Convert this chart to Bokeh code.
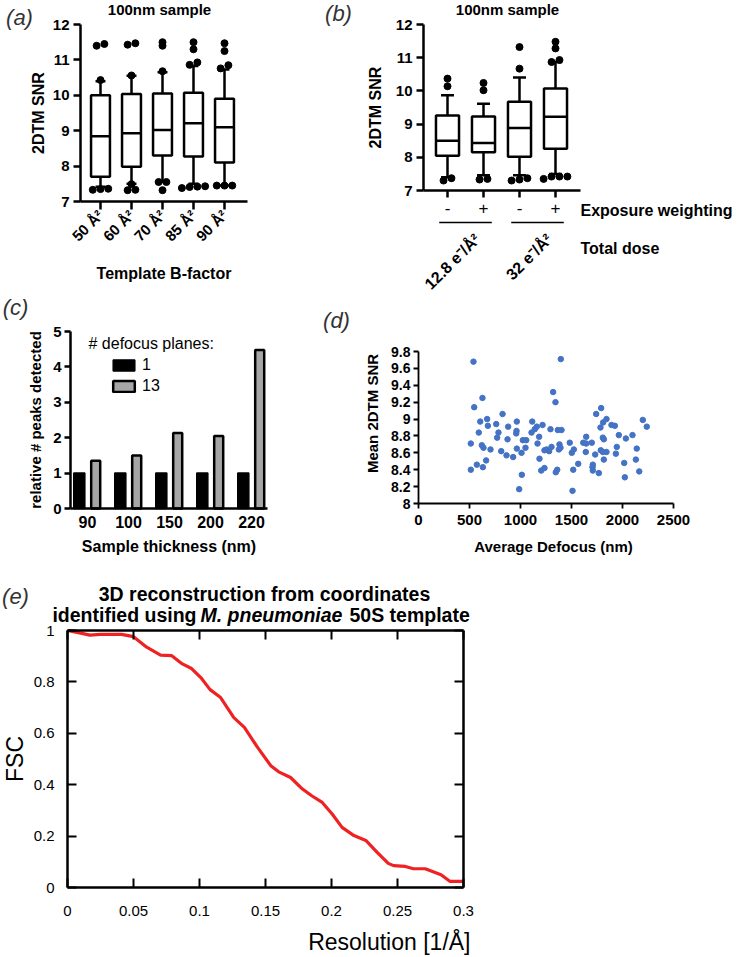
import math
import numpy as np
from bokeh.plotting import figure
from bokeh.models import (Range1d, FixedTicker, Label, LinearAxis, Legend, LegendItem,
                          NumeralTickFormatter, ColumnDataSource)
from bokeh.layouts import row, column
from bokeh.embed import file_html
from bokeh.resources import INLINE

FONT = "Liberation Sans"

# ---------------- data: panel (a) ----------------
a_categories = ["50 Å²", "60 Å²", "70 Å²", "85 Å²", "90 Å²"]
a_q1 = [7.70, 7.98, 8.30, 8.27, 8.10]
a_median = [8.84, 8.93, 9.02, 9.21, 9.10]
a_q3 = [10.00, 10.04, 10.05, 10.07, 9.90]
a_whisker_low = [7.42, 7.50, 7.55, 7.50, 7.45]
a_whisker_high = [10.40, 10.55, 10.65, 10.83, 10.73]
a_outliers = [
    [11.40, 11.45, 10.43, 7.36, 7.33, 7.35],
    [11.43, 11.47, 10.56, 7.49, 7.32, 7.33],
    [11.40, 11.50, 10.68, 7.55, 7.55, 7.32],
    [11.50, 11.30, 10.93, 10.86, 7.38, 7.42, 7.43, 7.41],
    [11.47, 11.25, 10.85, 10.76, 7.45, 7.45, 7.45],
]
a_yticks = [7, 8, 9, 10, 11, 12]

# ---------------- data: panel (b) ----------------
b_weighting = ["-", "+", "-", "+"]
b_dose_labels = ["12.8 e⁻/Å²", "32 e⁻/Å²"]
b_q1 = [8.05, 8.15, 8.02, 8.26]
b_median = [8.50, 8.43, 8.88, 9.22]
b_q3 = [9.26, 9.23, 9.67, 10.07]
b_whisker_low = [7.40, 7.46, 7.46, 7.50]
b_whisker_high = [9.87, 9.61, 10.40, 10.87]
b_outliers = [
    [10.37, 10.14, 7.30, 7.37],
    [10.24, 10.02, 7.33, 7.35],
    [11.32, 10.67, 7.30, 7.37, 7.33],
    [11.48, 11.28, 10.93, 10.87, 7.35, 7.42, 7.42, 7.42],
]

# ---------------- data: panel (c) ----------------
c_thickness = ["90", "100", "150", "200", "220"]
c_planes_1 = [1, 1, 1, 1, 1]
c_planes_13 = [1.35, 1.50, 2.13, 2.05, 4.48]
c_yticks = [0, 1, 2, 3, 4, 5]

# ---------------- data: panel (d) ----------------
d_defocus = [539, 627, 546, 605, 673, 680, 824, 762, 591, 784, 879, 964, 961, 958,
             513, 621, 637, 771, 873, 706, 811, 863, 928, 964, 1023, 1056, 1010, 1049,
             663, 572, 513, 631, 1013, 987, 1115, 1140, 1160, 1216, 1183, 1167, 1186,
             1203, 1108, 1235,
             1395, 1320, 1343, 1294, 1366, 1402, 1304, 1255, 1281, 1382, 1392, 1376,
             1235, 1346, 1360, 1510, 1483, 1523, 1503, 1566, 1517, 1644, 1615, 1644,
             1699, 1640, 1732, 1709, 1706, 1709, 1768, 1742, 1791, 1843, 1810, 1784,
             1807, 1817, 1787, 1807, 1843, 1817, 1892, 1925, 1964, 1944, 1935, 2033,
             2098, 2199, 2238, 2140, 2131, 2017, 2164, 2023]
d_snr = [9.68, 9.25, 9.14, 8.97, 9.00, 8.92, 9.06, 8.94, 8.84, 8.84, 8.91, 8.97, 8.86, 8.83,
         8.71, 8.69, 8.66, 8.78, 8.76, 8.64, 8.62, 8.57, 8.55, 8.65, 8.75, 8.75, 8.60, 8.66,
         8.51, 8.46, 8.40, 8.43, 8.34, 8.17, 8.97, 8.88, 8.91, 8.93, 8.79, 8.71, 8.53,
         8.39, 8.84, 8.63,
         9.71, 9.32, 9.20, 8.88, 8.87, 8.87, 8.67, 8.64, 8.62, 8.70, 8.66, 8.64,
         8.42, 8.37, 8.40, 8.15, 8.72, 8.64, 8.60, 8.47, 8.40, 8.79, 8.72, 8.71,
         8.72, 8.61, 8.58, 8.46, 8.43, 8.39, 8.36, 9.06, 9.13, 9.00, 8.96, 8.90,
         8.78, 8.76, 8.63, 8.61, 8.61, 8.52, 8.93, 8.92, 8.81, 8.67, 8.59, 8.77,
         8.81, 8.99, 8.91, 8.65, 8.52, 8.48, 8.38, 8.31]
d_xticks = [0, 500, 1000, 1500, 2000, 2500]
d_yticks = [8.0, 8.2, 8.4, 8.6, 8.8, 9.0, 9.2, 9.4, 9.6, 9.8]

# ---------------- data: panel (e) ----------------
e_resolution = [0.000, 0.010, 0.017, 0.025, 0.041, 0.050, 0.060, 0.0705, 0.079, 0.087,
                0.094, 0.101, 0.108, 0.116, 0.126, 0.134, 0.144, 0.154, 0.160, 0.169,
                0.178, 0.185, 0.193, 0.2005, 0.208, 0.217, 0.226, 0.2346, 0.243, 0.247,
                0.256, 0.262, 0.271, 0.283, 0.2896, 0.300]
e_fsc = [1.000, 0.990, 0.982, 0.985, 0.985, 0.976, 0.935, 0.904, 0.902, 0.870,
         0.852, 0.817, 0.770, 0.739, 0.661, 0.623, 0.545, 0.474, 0.450, 0.428,
         0.383, 0.357, 0.331, 0.286, 0.234, 0.202, 0.183, 0.137, 0.094, 0.085,
         0.082, 0.073, 0.073, 0.050, 0.024, 0.024]
e_xticks = [0, 0.05, 0.1, 0.15, 0.2, 0.25, 0.3]
e_yticks = [0, 0.2, 0.4, 0.6, 0.8, 1.0]


# ---------------- helpers ----------------
class Panel:
    """A figure whose frame is its whole canvas; (X, Y) are page pixels."""

    def __init__(self, X0, Y0, W, H, xcal, ycal):
        self.X0, self.Y0, self.W, self.H = X0, Y0, W, H
        (xd0, xp0), (xd1, xp1) = xcal
        (yd0, yp0), (yd1, yp1) = ycal
        self.xdata = lambda X: xd0 + (X - xp0) * (xd1 - xd0) / (xp1 - xp0)
        self.ydata = lambda Y: yd0 + (Y - yp0) * (yd1 - yd0) / (yp1 - yp0)
        p = figure(width=W, height=H,
                   x_range=Range1d(self.xdata(X0), self.xdata(X0 + W)),
                   y_range=Range1d(self.ydata(Y0 + H), self.ydata(Y0)),
                   output_backend="svg", toolbar_location=None,
                   min_border=0, min_border_left=0, min_border_right=0,
                   min_border_top=0, min_border_bottom=0)
        p.title.visible = False
        p.grid.visible = False
        p.outline_line_color = None
        p.background_fill_color = "white"
        p.border_fill_color = "white"
        self.p = p

    def text(self, X, Y, s, size, style="bold", align="center", baseline="middle",
             angle=0.0, color="black"):
        self.p.add_layout(Label(x=X - self.X0, y=self.Y0 + self.H - Y,
                                x_units="screen", y_units="screen", text=s,
                                text_font=FONT, text_font_size=size,
                                text_font_style=style, text_align=align,
                                text_baseline=baseline, angle=angle, text_color=color))


def style_axis(ax, label_size, bold=True, lw=2.5, tick_out=6, tick_in=0, standoff=4,
               title_size="16px", title_standoff=6, tick_lw=None):
    ax.axis_line_color = "black"
    ax.axis_line_width = lw
    ax.major_tick_line_color = "black"
    ax.major_tick_line_width = tick_lw if tick_lw is not None else lw
    ax.major_tick_out = tick_out
    ax.major_tick_in = tick_in
    ax.minor_tick_line_color = None
    ax.major_label_text_font = FONT
    ax.major_label_text_font_size = label_size
    ax.major_label_text_font_style = "bold" if bold else "normal"
    ax.major_label_text_color = "black"
    ax.major_label_standoff = standoff
    ax.axis_label_text_font = FONT
    ax.axis_label_text_font_size = title_size
    ax.axis_label_text_font_style = "bold" if bold else "normal"
    ax.axis_label_text_color = "black"
    ax.axis_label_standoff = title_standoff


def spread(center, values, step, tol):
    vals = sorted(values)
    clusters = []
    for v in vals:
        if clusters and v - clusters[-1][-1] <= tol:
            clusters[-1].append(v)
        else:
            clusters.append([v])
    xs, ys = [], []
    for c in clusters:
        n = len(c)
        for i, v in enumerate(c):
            xs.append(center + (i - (n - 1) / 2) * step)
            ys.append(v)
    return xs, ys


def draw_boxes(p, xs, q1, med, q3, wlo, whi, outs, box_w, cap_w, step, lw=2.5, dot=7):
    xs = np.asarray(xs, dtype=float)
    src = ColumnDataSource(dict(x=xs, q1=q1, med=med, q3=q3, wlo=wlo, whi=whi,
                                l=xs - box_w / 2, r=xs + box_w / 2,
                                cl=xs - cap_w / 2, cr=xs + cap_w / 2))
    kw = dict(source=src, line_color="black", line_width=lw)
    p.segment(x0="x", y0="q3", x1="x", y1="whi", **kw)
    p.segment(x0="x", y0="wlo", x1="x", y1="q1", **kw)
    p.segment(x0="cl", y0="whi", x1="cr", y1="whi", **kw)
    p.segment(x0="cl", y0="wlo", x1="cr", y1="wlo", **kw)
    p.vbar(x="x", bottom="q1", top="q3", width=box_w, fill_color="white", **kw)
    p.segment(x0="l", y0="med", x1="r", y1="med", **kw)
    ox, oy = [], []
    for x, vals in zip(xs, outs):
        sx, sy = spread(x, vals, step, 0.09)
        ox += sx
        oy += sy
    p.scatter(ox, oy, size=dot, color="black")


# ================= panel (a) =================
a_x = list(range(1, len(a_categories) + 1))
A = Panel(0, 0, 270, 292, xcal=((1, 100), (5, 224)), ycal=((7, 201), (12, 24)))
pa = A.p
draw_boxes(pa, a_x, a_q1, a_median, a_q3, a_whisker_low, a_whisker_high, a_outliers,
           box_w=0.61, cap_w=0.32, step=0.25)
ya = pa.yaxis[0]
style_axis(ya, "15px", tick_out=7, standoff=4, title_size="16px", title_standoff=3)
ya.ticker = FixedTicker(ticks=a_yticks)
ya.fixed_location = A.xdata(80)
ya.bounds = (7, 12)
ya.axis_label = "2DTM SNR"
xa = pa.xaxis[0]
style_axis(xa, "15px", tick_out=8, standoff=3, title_size="16px", title_standoff=12)
xa.ticker = FixedTicker(ticks=a_x)
xa.major_label_overrides = {x: c for x, c in zip(a_x, a_categories)}
xa.major_label_orientation = math.pi / 4
xa.fixed_location = 7
xa.bounds = (A.xdata(80), A.xdata(247))
xa.axis_label = "Template B-factor"
A.text(159, 9, "100nm sample", "15px")
A.text(19, 17, "(a)", "22px", style="italic", color="#333333")

# ================= panel (b) =================
b_x = list(range(1, len(b_weighting) + 1))
B = Panel(270, 0, 466, 292, xcal=((1, 447), (4, 555)), ycal=((7, 190), (12, 24)))
pb = B.p
draw_boxes(pb, b_x, b_q1, b_median, b_q3, b_whisker_low, b_whisker_high, b_outliers,
           box_w=0.64, cap_w=0.36, step=0.22)
yb = pb.yaxis[0]
style_axis(yb, "15px", tick_out=7, standoff=4, title_size="16px", title_standoff=9)
yb.ticker = FixedTicker(ticks=a_yticks)
yb.fixed_location = B.xdata(423)
yb.bounds = (7, 12)
yb.axis_label = "2DTM SNR"
xb = pb.xaxis[0]
style_axis(xb, "17px", bold=False, tick_out=7, standoff=4)
xb.ticker = FixedTicker(ticks=b_x)
xb.major_label_overrides = {x: w for x, w in zip(b_x, b_weighting)}
xb.fixed_location = 7
xb.bounds = (B.xdata(423), B.xdata(580))
B.text(507, 9, "100nm sample", "15px")
B.text(338, 13, "(b)", "22px", style="italic", color="#333333")
B.text(580, 210, "Exposure weighting", "16px", align="left")
B.text(580, 248, "Total dose", "16px", align="left")
y_group_line = B.ydata(222)
for g, lab in enumerate(b_dose_labels):
    gc = (b_x[2 * g] + b_x[2 * g + 1]) / 2
    pb.segment(x0=[gc - 0.73], y0=[y_group_line], x1=[gc + 0.73], y1=[y_group_line],
               line_color="black", line_width=1.6)
    pb.add_layout(Label(x=gc, x_units="data", y=B.Y0 + B.H - 236, y_units="screen",
                        x_offset=12, text=lab, text_font=FONT, text_font_size="16px",
                        text_font_style="bold", text_align="right", text_color="black",
                        text_baseline="middle", angle=math.pi / 4))

# ================= panel (c) =================
c_x = np.arange(1, len(c_thickness) + 1)
C = Panel(0, 292, 318, 273, xcal=((1, 87), (5, 251)), ycal=((0, 508), (5, 331)))
pc = C.p
rb = pc.vbar(x=c_x - 0.2, top=c_planes_1, width=0.27, fill_color="black",
             line_color="black", line_width=1.5)
rg = pc.vbar(x=c_x + 0.2, top=c_planes_13, width=0.22, fill_color="#a6a6a6",
             line_color="black", line_width=2.5)
yc = pc.yaxis[0]
style_axis(yc, "15px", tick_out=6, standoff=3, title_size="15px", title_standoff=6)
yc.ticker = FixedTicker(ticks=c_yticks)
yc.fixed_location = C.xdata(70)
yc.bounds = (0, 5)
yc.axis_label = "relative # peaks detected"
xc = pc.xaxis[0]
style_axis(xc, "16px", tick_out=0, standoff=7, title_size="16px", title_standoff=7)
xc.ticker = FixedTicker(ticks=list(c_x))
xc.major_label_overrides = {int(x): t for x, t in zip(c_x, c_thickness)}
xc.fixed_location = 0
xc.bounds = (C.xdata(70), C.xdata(267))
xc.axis_label = "Sample thickness (nm)"
legend = Legend(items=[LegendItem(label="1", renderers=[rb]),
                       LegendItem(label="13", renderers=[rg])],
                location=(110, 170), padding=0, margin=0, spacing=3,
                glyph_width=27, glyph_height=14, label_height=18, label_standoff=5,
                label_text_font=FONT, label_text_font_size="16px",
                label_text_color="black",
                border_line_color=None, background_fill_alpha=0)
pc.add_layout(legend)
C.text(88, 343, "# defocus planes:", "16px", style="normal", align="left")
C.text(15, 307, "(c)", "22px", style="italic", color="#333333")

# ================= panel (d) =================
D = Panel(318, 292, 418, 273, xcal=((0, 418), (2500, 673)), ycal=((8, 503), (9.8, 351)))
pd_ = D.p
pd_.scatter(d_defocus, d_snr, size=5.5, color="#4472C4")
yd = pd_.yaxis[0]
style_axis(yd, "14px", lw=1.8, tick_out=5, standoff=3)
yd.ticker = FixedTicker(ticks=d_yticks)
yd.formatter = NumeralTickFormatter(format="0.[0]")
yd.fixed_location = 0
yd.bounds = (8, 9.8)
xd = pd_.xaxis[0]
style_axis(xd, "15px", lw=1.8, tick_out=5, standoff=6)
xd.ticker = FixedTicker(ticks=d_xticks)
xd.fixed_location = 8
xd.bounds = (0, 2500)
D.text(372, 413, "Mean 2DTM SNR", "15px", angle=math.pi / 2)
D.text(553, 546, "Average Defocus (nm)", "15px")
D.text(336, 320, "(d)", "22px", style="italic", color="#333333")

# ================= panel (e) =================
E = Panel(0, 565, 520, 391, xcal=((0, 67), (0.3, 463)), ycal=((0, 887), (1, 630)))
pe = E.p
pe.line(e_resolution, e_fsc, line_color="#ee2222", line_width=3.2)
ye = pe.yaxis[0]
style_axis(ye, "15px", bold=False, lw=2.5, tick_out=0, tick_in=9, standoff=13,
           title_size="23px", title_standoff=3, tick_lw=2)
ye.ticker = FixedTicker(ticks=e_yticks)
ye.formatter = NumeralTickFormatter(format="0.[0]")
ye.fixed_location = 0
ye.bounds = (0, 1)
ye.axis_label = "FSC"
xe = pe.xaxis[0]
style_axis(xe, "15px", bold=False, lw=2.5, tick_out=0, tick_in=9, standoff=18, tick_lw=2)
xe.ticker = FixedTicker(ticks=e_xticks)
xe.formatter = NumeralTickFormatter(format="0.[00]")
xe.fixed_location = 0
xe.bounds = (0, 0.3)
top_ax = LinearAxis(ticker=FixedTicker(ticks=e_xticks), fixed_location=1, bounds=(0, 0.3),
                    major_tick_in=9, major_tick_out=0, axis_line_width=2.5,
                    major_tick_line_width=2, minor_tick_line_color=None,
                    major_label_text_color=None)
pe.add_layout(top_ax, "above")
right_ax = LinearAxis(ticker=FixedTicker(ticks=e_yticks), fixed_location=0.3, bounds=(0, 1),
                      major_tick_in=9, major_tick_out=0, axis_line_width=2.5,
                      major_tick_line_width=2, minor_tick_line_color=None,
                      major_label_text_color=None)
pe.add_layout(right_ax, "right")
E.text(470, 941, "Resolution [1/Å]", "23px", style="normal", align="right")
E.text(264, 593, "3D reconstruction from coordinates", "19.5px")
E.text(196, 614, "identified using", "19.5px", align="right")
E.text(200, 614, "M. pneumoniae", "19.5px", style="bold italic", align="left")
E.text(349, 614, "50S template", "19.5px", align="left")
E.text(15, 596, "(e)", "22px", style="italic", color="#333333")

layout = column(row(pa, pb), row(pc, pd_), pe)
open("out.html", "w").write(file_html(layout, INLINE))
